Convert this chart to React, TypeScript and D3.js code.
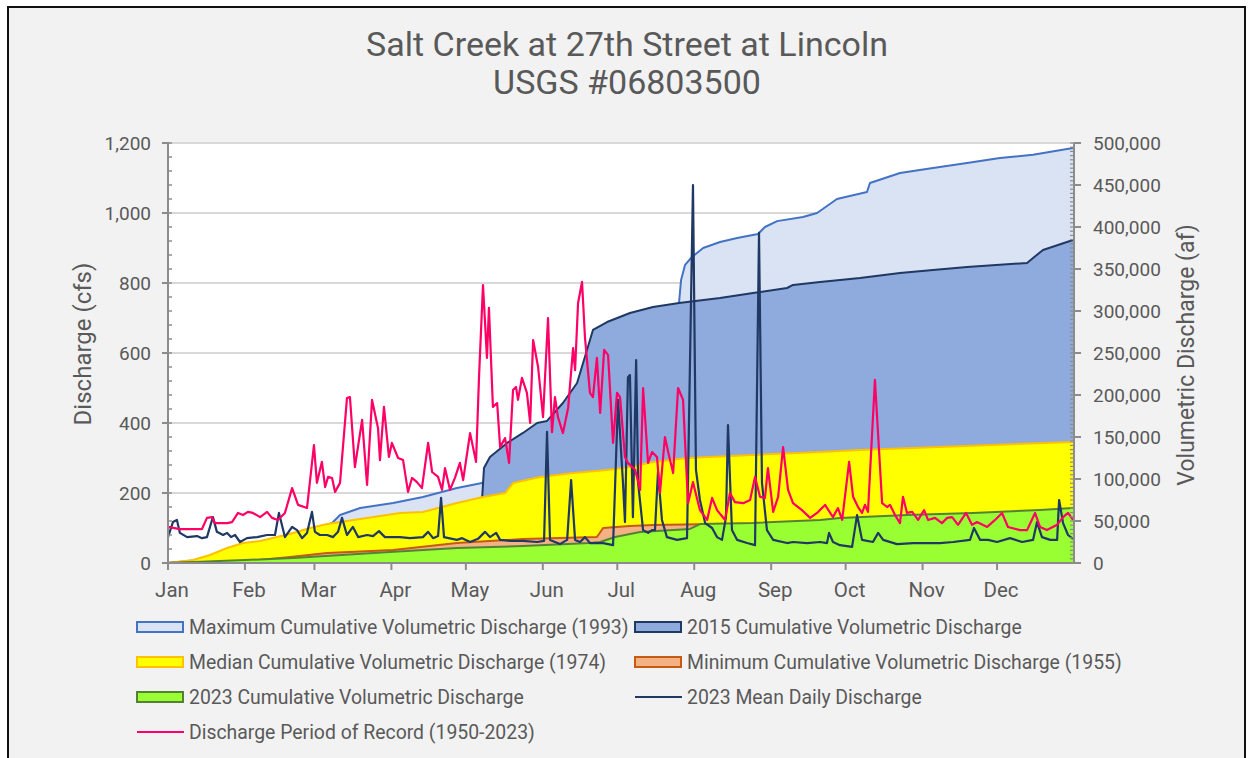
import React, { useEffect, useRef } from 'react';
import * as d3 from 'd3';

// month axis
const months = ['Jan', 'Feb', 'Mar', 'Apr', 'May', 'Jun', 'Jul', 'Aug', 'Sep', 'Oct', 'Nov', 'Dec'];
const monthStartDays = [0, 31, 59, 90, 120, 151, 181, 212, 243, 273, 304, 334];
const dischargeTicks = [0, 200, 400, 600, 800, 1000, 1200];
const volumeTicks = [0, 50000, 100000, 150000, 200000, 250000, 300000, 350000, 400000, 450000, 500000];

// cumulative volumetric discharge, [day of year, acre-feet]
const maxCum1993 = [
  [0, 0], [31, 9000], [59, 38000], [66.1, 47600], [69.3, 57100], [77.4, 65500], [90.7, 71400],
  [102.7, 78600], [116.4, 89300], [126.5, 95200], [150, 110000], [180, 160000], [203, 240000],
  [205.9, 310700], [206.7, 336900], [208.3, 354800], [211.1, 364300], [215.6, 375000], [222.4, 382100],
  [229.3, 386900], [237.7, 391600], [240.5, 400000], [245.4, 407000], [255.8, 411900], [261.5, 416700],
  [269.5, 433300], [281.6, 441700], [282.8, 452400], [294.9, 464300], [308.2, 470200], [321.9, 476200],
  [335.2, 482200], [348.5, 485900], [364.6, 494100],
];

const cum2015 = [
  [0, 0], [31, 6000], [59, 20000], [90, 40000], [126.4, 70000], [127.3, 113100], [129.7, 126200],
  [136.6, 142900], [143, 154800], [148.7, 166700], [152.7, 169100], [159.1, 190500], [164.8, 214300],
  [168.8, 253600], [171.2, 277400], [176.9, 286900], [186.1, 297600], [195.4, 304800], [205.9, 309500],
  [222.4, 315500], [235.7, 321400], [249.4, 327400], [251.8, 331000], [262.7, 334500], [278.8, 339300],
  [294.9, 345200], [308.2, 348800], [321.9, 352400], [346.1, 357200], [348.5, 363100], [352.5, 372600],
  [364.6, 384500],
];

const medianCum1974 = [
  [0, 0], [10.1, 3600], [16.9, 9500], [23.8, 17900], [30.2, 23800], [37.1, 26200], [43.9, 31000],
  [50.4, 35700], [57.2, 41700], [64.1, 46400], [77.4, 52400], [93.5, 59500], [102.7, 60700],
  [116.4, 71400], [126.9, 78600], [135.8, 83300], [139, 95200], [149.9, 102400], [163.2, 107100],
  [176.9, 110700], [186.1, 114300], [195.4, 120200], [209.1, 125000], [235.7, 128600], [262.7, 132100],
  [278.8, 134500], [364.6, 144100],
];

const minCum1955 = [
  [0, 0], [31, 2000], [49.2, 7100], [64.1, 11900], [90.7, 15500], [116.4, 23800], [143, 28600],
  [172.8, 31000], [175.3, 41700], [186.1, 44000], [195.4, 45200], [214.3, 46000], [250, 47000],
  [364.6, 50000],
];

const cum2023 = [
  [0, 0], [31, 3500], [50.4, 6000], [89.4, 13100], [116.4, 17900], [143, 20200], [170, 23800],
  [174.1, 25000], [180.1, 31000], [190.2, 36900], [210.3, 40500], [214.3, 46400], [235.7, 47600],
  [262.7, 51200], [270.7, 53600], [297.7, 57100], [324.3, 59500], [351.3, 63100], [364.6, 65500],
];

// daily discharge, [day of year, cfs]
const daily2023 = [
  [0, 74], [2, 117], [3.6, 123], [4.8, 86], [7.7, 74], [11.7, 77], [13.7, 71], [15.7, 74], [16.9, 103],
  [18.1, 131], [19.7, 89], [22.2, 80], [23.8, 86], [25.4, 74], [27, 80], [29, 60], [31.8, 71], [35.9, 74],
  [39.9, 80], [43.1, 80], [44.7, 143], [47.1, 74], [50, 103], [52, 94], [54, 71], [56, 86], [58, 146],
  [59.2, 89], [61.2, 80], [64.1, 80], [66.5, 74], [68.5, 89], [70.1, 129], [72.1, 80], [74.5, 103],
  [76.6, 74], [80.2, 80], [82.6, 77], [85, 91], [87.4, 74], [93.5, 74], [97.5, 71], [102.7, 74],
  [104.8, 89], [106.8, 71], [108.8, 77], [110, 186], [111.2, 74], [116.4, 66], [118.5, 71], [121.7, 60],
  [124.9, 69], [127.7, 89], [129.7, 74], [132.2, 86], [133.8, 66], [137.8, 63], [143, 63], [148.7, 60],
  [151.5, 63], [152.7, 375], [153.9, 66], [157.9, 54], [160.8, 66], [162.4, 237], [164, 66], [166, 60],
  [168, 74], [170, 57], [175.3, 57], [179.3, 51], [181.3, 466], [183.3, 229], [184.1, 117], [185.3, 531],
  [186.1, 537], [187.3, 131], [188.6, 580], [189.4, 229], [191.4, 94], [193.4, 86], [195, 94], [196.2, 94],
  [197.4, 260], [199, 123], [201, 74], [205.1, 66], [209.1, 71], [211.5, 1080], [212.7, 266], [214.3, 180],
  [216.4, 114], [219.2, 100], [221.2, 74], [223.2, 66], [224.8, 131], [225.6, 394], [227.2, 94],
  [229.3, 66], [233.3, 57], [236.5, 51], [238.1, 943], [239.3, 229], [241.3, 94], [243.8, 66], [249.4, 57],
  [251.8, 60], [257.5, 57], [262.7, 60], [265.5, 57], [266.3, 86], [267.9, 60], [270.7, 51], [275.6, 46],
  [277.6, 137], [279.6, 66], [284, 60], [286.1, 86], [288.1, 66], [293.7, 54], [300.2, 57], [305.8, 57],
  [311, 57], [316.3, 60], [323.1, 66], [324.7, 100], [327.2, 66], [330.4, 66], [334, 60], [339.2, 71],
  [344.1, 60], [348.5, 66], [350.1, 117], [352.1, 74], [355.4, 66], [358.2, 66], [359, 180], [360.6, 114],
  [362.6, 80], [364.6, 69],
];

const periodOfRecord = [
  [0, 103], [4.8, 97], [13.7, 97], [15.7, 129], [17.7, 131], [18.9, 114], [23.8, 114], [25.8, 117],
  [28.2, 143], [30.2, 137], [32.2, 146], [34.2, 143], [37.1, 131], [39.9, 146], [41.9, 129], [44.3, 123],
  [47.1, 143], [50, 214], [52.4, 166], [56, 157], [58.8, 337], [60, 229], [62, 289], [63.3, 217],
  [64.5, 246], [66.1, 243], [67.3, 203], [69.3, 229], [72.1, 471], [73.3, 474], [75.3, 274], [78.2, 409],
  [80.2, 223], [82.2, 466], [84.6, 386], [85.4, 294], [87, 446], [89, 303], [90.2, 343], [92.7, 300],
  [94.7, 294], [96.7, 203], [98.3, 243], [100.3, 231], [102.3, 214], [104.8, 343], [106.4, 260],
  [108.8, 246], [110.4, 209], [111.6, 271], [113.6, 209], [115.6, 243], [117.6, 286], [118.9, 237],
  [121.7, 371], [124.1, 289], [125.3, 531], [126.9, 794], [128.5, 586], [129.3, 729], [130.9, 446],
  [132.6, 457], [133.8, 331], [135.8, 357], [137.4, 286], [139, 494], [140.2, 503], [141, 466],
  [142.6, 529], [144.6, 486], [145.9, 400], [147.1, 637], [149.1, 560], [151.1, 417], [153.1, 700],
  [154.7, 374], [155.9, 474], [157.1, 417], [159.1, 371], [161.2, 443], [163.2, 614], [164, 551],
  [165.2, 743], [166.8, 803], [168, 643], [170, 486], [171.2, 474], [172.8, 586], [174.1, 429],
  [175.7, 609], [177.3, 594], [179.3, 343], [180.9, 486], [182.1, 474], [184.1, 303], [185.3, 286],
  [188.2, 266], [190.2, 209], [191.4, 500], [193.4, 286], [195, 317], [197, 303], [198.2, 200],
  [200.2, 360], [201.5, 317], [203.5, 257], [205.5, 500], [207.5, 466], [209.5, 171], [211.5, 231],
  [214.3, 151], [217.2, 123], [219.2, 186], [221.2, 151], [224.4, 123], [226.4, 200], [228.4, 174],
  [231.7, 171], [234.5, 180], [236.5, 246], [238.5, 189], [240.5, 186], [241.7, 271], [243.8, 146],
  [245.8, 189], [247.8, 331], [249.8, 209], [251.8, 171], [255.4, 151], [258.7, 129], [261.5, 143],
  [264.7, 166], [267.9, 131], [269.9, 157], [271.6, 123], [274.4, 289], [276, 189], [278, 160],
  [279.6, 143], [280.8, 166], [282, 146], [284.8, 523], [287.7, 171], [289.7, 160], [290.9, 166],
  [292.9, 137], [294.9, 114], [296.1, 189], [297.7, 143], [299.8, 146], [302.2, 123], [304.6, 151],
  [306.2, 123], [309, 129], [311.8, 114], [313.9, 129], [315.9, 131], [318.3, 109], [321.5, 143],
  [323.9, 109], [325.9, 117], [330, 103], [333.2, 123], [336, 143], [338.4, 103], [343.3, 94], [346.1, 94],
  [349.3, 143], [351.3, 103], [354.1, 94], [358.2, 109], [360.6, 131], [362.6, 143], [364.6, 123],
];

const areaSeries = [
  { name: 'Maximum Cumulative Volumetric Discharge (1993)', data: maxCum1993, fill: '#dae3f3', stroke: '#4472c4' },
  { name: '2015 Cumulative Volumetric Discharge', data: cum2015, fill: '#8faadc', stroke: '#1f3864' },
  { name: 'Median Cumulative Volumetric Discharge (1974)', data: medianCum1974, fill: '#ffff00', stroke: '#ffc000' },
  { name: 'Minimum Cumulative Volumetric Discharge (1955)', data: minCum1955, fill: '#f4b183', stroke: '#c55a11' },
  { name: '2023 Cumulative Volumetric Discharge', data: cum2023, fill: '#99ff33', stroke: '#548235' },
];

const lineSeries = [
  { name: '2023 Mean Daily Discharge', data: daily2023, stroke: '#1f3864' },
  { name: 'Discharge Period of Record (1950-2023)', data: periodOfRecord, stroke: '#ff0066' },
];

const FONT = 'Roboto, sans-serif';
const TEXT = '#595959';

const App = () => {
  const svgRef = useRef(null);

  useEffect(() => {
    const root = d3.select(svgRef.current);
    root.selectAll('*').remove();

    // chart frame
    root.append('rect').attr('width', 1249).attr('height', 758).attr('fill', '#ffffff');
    root.append('rect')
      .attr('x', 8).attr('y', 7).attr('width', 1237).attr('height', 760)
      .attr('fill', '#f2f2f2').attr('stroke', '#111').attr('stroke-width', 2);

    // title
    const title = root.append('text')
      .attr('x', 627).attr('text-anchor', 'middle')
      .style('font-family', FONT).style('font-size', '34px').attr('fill', TEXT);
    title.append('tspan').attr('x', 627).attr('y', 56).text('Salt Creek at 27th Street at Lincoln');
    title.append('tspan').attr('x', 627).attr('y', 94).text('USGS #06803500');

    const margin = { top: 143, left: 168 };
    const width = 906;
    const height = 420;

    const svg = root.append('g').attr('transform', `translate(${margin.left},${margin.top})`);

    const x = d3.scaleLinear().domain([0, 365]).range([0, width]);
    const yL = d3.scaleLinear().domain([0, 1200]).range([height, 0]);
    const yR = d3.scaleLinear().domain([0, 500000]).range([height, 0]);

    svg.append('rect').attr('width', width).attr('height', height).attr('fill', '#ffffff');

    // gridlines
    svg.append('g')
      .selectAll('line')
      .data(dischargeTicks.slice(1))
      .join('line')
      .attr('x1', 0).attr('x2', width)
      .attr('y1', d => yL(d)).attr('y2', d => yL(d))
      .attr('stroke', '#d9d9d9').attr('stroke-width', 2);

    // cumulative areas on the right axis
    areaSeries.forEach(s => {
      const area = d3.area()
        .x(d => x(d[0]))
        .y0(height)
        .y1(d => yR(d[1]));
      const edge = d3.line()
        .x(d => x(d[0]))
        .y(d => yR(d[1]));
      svg.append('path').datum(s.data).attr('fill', s.fill).attr('d', area);
      svg.append('path').datum(s.data)
        .attr('fill', 'none').attr('stroke', s.stroke).attr('stroke-width', 2)
        .attr('stroke-linejoin', 'round').attr('d', edge);
    });

    // daily lines on the left axis
    lineSeries.forEach(s => {
      const line = d3.line()
        .x(d => x(d[0]))
        .y(d => yL(d[1]));
      svg.append('path').datum(s.data)
        .attr('fill', 'none').attr('stroke', s.stroke).attr('stroke-width', 2.2)
        .attr('stroke-linejoin', 'round').attr('d', line);
    });

    const axisColor = '#8c8c8c';

    // left axis
    const left = svg.append('g');
    left.append('line').attr('x1', 0).attr('x2', 0).attr('y1', 0).attr('y2', height)
      .attr('stroke', axisColor).attr('stroke-width', 2);
    left.selectAll('.minor')
      .data(d3.range(0, 1201, 40))
      .join('line')
      .attr('x1', 0).attr('x2', 4)
      .attr('y1', d => yL(d)).attr('y2', d => yL(d))
      .attr('stroke', axisColor).attr('stroke-width', 1.5);
    left.selectAll('.major')
      .data(dischargeTicks)
      .join('line')
      .attr('x1', -6).attr('x2', 1)
      .attr('y1', d => yL(d)).attr('y2', d => yL(d))
      .attr('stroke', axisColor).attr('stroke-width', 2);
    left.selectAll('text')
      .data(dischargeTicks)
      .join('text')
      .attr('x', -17).attr('y', d => yL(d)).attr('dy', '0.35em')
      .attr('text-anchor', 'end')
      .style('font-family', FONT).style('font-size', '19px').attr('fill', TEXT)
      .text(d => d3.format(',')(d));

    // right axis
    const right = svg.append('g').attr('transform', `translate(${width},0)`);
    right.append('line').attr('x1', 0).attr('x2', 0).attr('y1', 0).attr('y2', height)
      .attr('stroke', axisColor).attr('stroke-width', 2);
    right.selectAll('.minor')
      .data(d3.range(0, 500001, 5000))
      .join('line')
      .attr('x1', -4).attr('x2', 0)
      .attr('y1', d => yR(d)).attr('y2', d => yR(d))
      .attr('stroke', axisColor).attr('stroke-width', 1.2);
    right.selectAll('.major')
      .data(volumeTicks)
      .join('line')
      .attr('x1', 0).attr('x2', 7)
      .attr('y1', d => yR(d)).attr('y2', d => yR(d))
      .attr('stroke', axisColor).attr('stroke-width', 2);
    right.selectAll('text')
      .data(volumeTicks)
      .join('text')
      .attr('x', 19).attr('y', d => yR(d)).attr('dy', '0.35em')
      .style('font-family', FONT).style('font-size', '19px').attr('fill', TEXT)
      .text(d => d3.format(',')(d));

    // bottom axis
    const bottom = svg.append('g').attr('transform', `translate(0,${height})`);
    bottom.append('line').attr('x1', 0).attr('x2', width)
      .attr('stroke', axisColor).attr('stroke-width', 2);
    bottom.selectAll('.tick')
      .data(monthStartDays)
      .join('line')
      .attr('x1', d => x(d)).attr('x2', d => x(d))
      .attr('y1', 0).attr('y2', 7)
      .attr('stroke', axisColor).attr('stroke-width', 2);
    bottom.selectAll('text')
      .data(months)
      .join('text')
      .attr('x', (d, i) => x(monthStartDays[i]) + 4)
      .attr('y', 34)
      .attr('text-anchor', 'middle')
      .style('font-family', FONT).style('font-size', '20.5px').attr('fill', TEXT)
      .text(d => d);

    // axis titles
    root.append('text')
      .attr('transform', 'translate(83,344) rotate(-90)')
      .attr('text-anchor', 'middle').attr('dy', '0.35em')
      .style('font-family', FONT).style('font-size', '24px').attr('fill', TEXT)
      .text('Discharge (cfs)');
    root.append('text')
      .attr('transform', 'translate(1186,355) rotate(-90)')
      .attr('text-anchor', 'middle').attr('dy', '0.35em')
      .style('font-family', FONT).style('font-size', '23px').attr('fill', TEXT)
      .text('Volumetric Discharge (af)');

    // legend
    const legendItems = [
      { ...areaSeries[0], kind: 'area' },
      { ...areaSeries[1], kind: 'area' },
      { ...areaSeries[2], kind: 'area' },
      { ...areaSeries[3], kind: 'area' },
      { ...areaSeries[4], kind: 'area' },
      { ...lineSeries[0], kind: 'line' },
      { ...lineSeries[1], kind: 'line' },
    ];
    const legend = root.append('g');
    legendItems.forEach((item, i) => {
      const col = i % 2;
      const row = Math.floor(i / 2);
      const lx = col === 0 ? 137 : 635;
      const ly = 627 + row * 35;
      if (item.kind === 'area') {
        legend.append('rect')
          .attr('x', lx).attr('y', ly - 5).attr('width', 46).attr('height', 10)
          .attr('fill', item.fill).attr('stroke', item.stroke).attr('stroke-width', 2);
      } else {
        legend.append('line')
          .attr('x1', lx).attr('x2', lx + 47).attr('y1', ly).attr('y2', ly)
          .attr('stroke', item.stroke).attr('stroke-width', 2);
      }
      legend.append('text')
        .attr('x', lx + 52).attr('y', ly).attr('dy', '0.35em')
        .style('font-family', FONT).style('font-size', '19.4px').attr('fill', TEXT)
        .text(item.name);
    });
  }, []);

  return (
    <div style={{ position: 'absolute', left: 0, top: 0 }}>
      <svg ref={svgRef} width={1249} height={758} style={{ display: 'block' }}></svg>
    </div>
  );
};

export default App;
